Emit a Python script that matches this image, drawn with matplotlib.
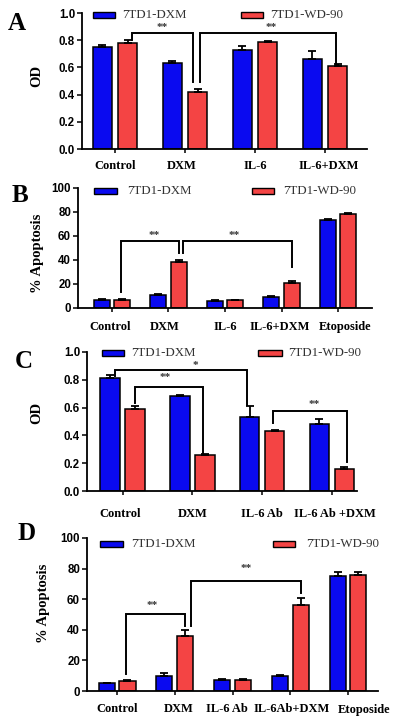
import matplotlib

matplotlib.use("Agg")
import matplotlib.pyplot as plt
import matplotlib.transforms as mtransforms
import numpy as np
from matplotlib.patches import Rectangle

BLUE = "#0A0AF0"
RED = "#F44444"
SERIES = ["7TD1-DXM", "7TD1-WD-90"]
SERIF = "Liberation Serif"
SANS = "Liberation Sans"

# --- data -----------------------------------------------------------------
a_groups = ["Control", "DXM", "IL-6", "IL-6+DXM"]
a_dxm = [0.75, 0.63, 0.73, 0.665]
a_dxm_err = [0.012, 0.018, 0.03, 0.058]
a_wd = [0.78, 0.42, 0.79, 0.61]
a_wd_err = [0.02, 0.018, 0.006, 0.015]

b_groups = ["Control", "DXM", "IL-6", "IL-6+DXM", "Etoposide"]
b_dxm = [7.0, 11.0, 6.0, 9.5, 73.5]
b_dxm_err = [0.5, 0.8, 0.4, 0.6, 1.0]
b_wd = [7.0, 38.0, 6.5, 20.5, 78.5]
b_wd_err = [0.4, 2.0, 0.4, 2.0, 1.0]

c_groups = ["Control", "DXM", "IL-6 Ab", "IL-6 Ab +DXM"]
c_dxm = [0.81, 0.68, 0.53, 0.485]
c_dxm_err = [0.022, 0.01, 0.08, 0.03]
c_wd = [0.59, 0.26, 0.43, 0.16]
c_wd_err = [0.022, 0.005, 0.012, 0.012]

d_groups = ["Control", "DXM", "IL-6 Ab", "IL-6Ab+DXM", "Etoposide"]
d_dxm = [5.0, 10.0, 7.5, 9.8, 75.0]
d_dxm_err = [0.4, 1.5, 0.4, 0.4, 2.5]
d_wd = [6.5, 36.0, 7.5, 56.0, 75.5]
d_wd_err = [0.5, 4.0, 0.4, 4.5, 2.0]

# significance brackets: (start group, start series, end group, end series,
#   left leg y, top y, right leg y, label, label y, dx start, dx end, label dx)
a_brackets = [
    (0, 1, 1, 1, 0.80, 0.853, 0.49, "**", 0.89, 0.06, -0.07, 0.0),
    (1, 1, 3, 1, 0.49, 0.853, 0.62, "**", 0.89, 0.03, -0.02, 0.05),
]
b_brackets = [
    (0, 1, 1, 1, 13.4, 56.0, 45.5, "**", 60.5, -0.02, 0.0, 0.07),
    (1, 1, 3, 1, 45.5, 56.0, 34.0, "**", 60.5, 0.07, 0.0, -0.05),
]
c_brackets = [
    (0, 0, 2, 0, 0.825, 0.868, 0.62, "*", 0.905, 0.07, -0.03, 0.21),
    (0, 1, 1, 1, 0.63, 0.748, 0.27, "**", 0.815, 0.0, -0.03, -0.05),
    (2, 1, 3, 1, 0.488, 0.572, 0.21, "**", 0.62, -0.02, 0.04, 0.05),
]
d_brackets = [
    (0, 1, 1, 1, 11.0, 50.3, 42.5, "**", 56.0, -0.03, 0.0, -0.05),
    (1, 1, 3, 1, 42.5, 72.0, 64.0, "**", 80.0, 0.10, 0.0, 0.0),
]

W, H = 400, 722
fig = plt.figure(figsize=(W / 100, H / 100), dpi=100)
# reference pixel coordinates (origin top-left) -> display
PX = mtransforms.Affine2D().scale(1 / 100, -1 / 100).translate(0, H / 100) + fig.dpi_scale_trans

WIDTH = 0.28
OFFSET = 0.18


def panel(rect, groups, dxm, dxm_err, wd, wd_err, brackets, ylim, yticks, yfmt,
          letter, letter_xy, ylabel, ylabel_xy, legend_px, xlim, label_pad, label_dx=None):
    left, top, right, bottom = rect
    ax = fig.add_axes([left / W, 1 - bottom / H, (right - left) / W, (bottom - top) / H])
    x = np.arange(len(groups))
    for i, (vals, errs, color) in enumerate([(dxm, dxm_err, BLUE), (wd, wd_err, RED)]):
        pos = x + (2 * i - 1) * OFFSET
        ax.bar(pos, vals, WIDTH, color=color, edgecolor="black", linewidth=1.1, zorder=2)
        ax.errorbar(pos, vals, yerr=[np.zeros(len(vals)), errs], fmt="none",
                    ecolor="black", elinewidth=1.3, capsize=3.2, capthick=1.3, zorder=3)

    for g1, s1, g2, s2, yl, yt, yr, lab, ly, dx1, dx2, ldx in brackets:
        x1 = g1 + (2 * s1 - 1) * OFFSET + dx1
        x2 = g2 + (2 * s2 - 1) * OFFSET + dx2
        ax.plot([x1, x1, x2, x2], [yl, yt, yt, yr], color="black", lw=1.4,
                solid_joinstyle="miter", zorder=4, clip_on=False)
        ax.text((x1 + x2) / 2 + ldx, ly, lab, ha="center", va="center",
                fontsize=8, family=SERIF, fontweight="bold", color="#333333")

    ax.set_xlim(*xlim)
    ax.set_ylim(*ylim)
    ax.set_yticks(yticks)
    ax.set_yticklabels([yfmt.format(t) for t in yticks], fontsize=8.3,
                       family=SANS, fontweight="bold")
    ax.set_xticks(x)
    ax.set_xticklabels(groups, fontsize=9, family=SERIF, fontweight="bold")
    ax.tick_params(axis="y", length=3.5, width=1.1, pad=1.5)
    ax.tick_params(axis="x", length=3, width=1.1, pad=label_pad)
    if label_dx:
        for lab, dx in zip(ax.get_xticklabels(), label_dx):
            lab.set_transform(lab.get_transform()
                              + mtransforms.ScaledTranslation(dx / 100, 0, fig.dpi_scale_trans))
    for side in ("top", "right"):
        ax.spines[side].set_visible(False)
    for side in ("left", "bottom"):
        ax.spines[side].set_linewidth(1.3)

    fig.text(*letter_xy, letter, transform=PX, ha="center", va="center",
             fontsize=18, family=SERIF, fontweight="bold")
    fig.text(*ylabel_xy, ylabel, transform=PX, ha="center", va="center", rotation=90,
             fontsize=10.5, family=SERIF, fontweight="bold")

    ly = legend_px[2]
    for (p0, p1, tx), color, name in zip(legend_px[:2], (BLUE, RED), SERIES):
        fig.patches.append(Rectangle((p0, ly - 3), p1 - p0, 6, transform=PX,
                                     facecolor=color, edgecolor="black", linewidth=1.0))
        fig.text(tx, ly, name, transform=PX, ha="left", va="center",
                 fontsize=9.3, family=SERIF, color="#333333")
    return ax


panel((82, 13, 367, 149), a_groups, a_dxm, a_dxm_err, a_wd, a_wd_err, a_brackets,
      (0, 1.0), np.arange(0, 1.01, 0.2), "{:.1f}", "A", (17, 23), "OD", (37, 76),
      ((93, 115, 122), (241, 263, 270), 15), (-0.47, 3.6), 5.0, [0, -3, 0, 4])

panel((78, 188, 372, 308), b_groups, b_dxm, b_dxm_err, b_wd, b_wd_err, b_brackets,
      (0, 100), np.arange(0, 101, 20), "{:.0f}", "B", (20, 195), "% Apoptosis", (38, 253),
      ((94, 117, 127), (252, 274, 283), 191), (-0.6, 4.6), 6.5, [-2, -4, 0, -2, 7])

panel((87, 352, 357, 491), c_groups, c_dxm, c_dxm_err, c_wd, c_wd_err, c_brackets,
      (0, 1.0), np.arange(0, 1.01, 0.2), "{:.1f}", "C", (24, 361), "OD", (37, 413),
      ((102, 124, 131), (258, 282, 288), 353), (-0.51, 3.36), 9.5, [-2, 0, 0, 3])

panel((87, 538, 378, 691), d_groups, d_dxm, d_dxm_err, d_wd, d_wd_err, d_brackets,
      (0, 100), np.arange(0, 101, 20), "{:.0f}", "D", (27, 534), "% Apoptosis", (44, 603),
      ((100, 123, 131), (273, 295, 306), 544), (-0.52, 4.52), 6.0, [0, 4, -6, 1, 16])

fig.savefig("out.png", dpi=100)
